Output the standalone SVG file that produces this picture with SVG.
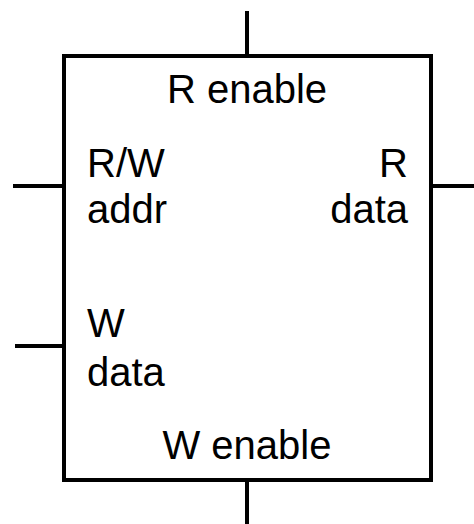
<svg xmlns="http://www.w3.org/2000/svg" width="474" height="524" viewBox="0 0 474 524">
  <style>
    .box { fill: #ffffff; stroke: #000000; stroke-width: 4; }
    .wire { stroke: #000000; stroke-width: 4; fill: none; }
    .lbl { font-family: "Liberation Sans", Arial, sans-serif; font-size: 40px; fill: #000000; }
  </style>
  <rect x="0" y="0" width="474" height="524" fill="#ffffff"/>

  <!-- port stubs -->
  <g id="connectors">
    <line class="wire" x1="247" y1="11" x2="247" y2="56"/>
    <line class="wire" x1="247" y1="480" x2="247" y2="524"/>
    <line class="wire" x1="13" y1="186" x2="64" y2="186"/>
    <line class="wire" x1="15" y1="346" x2="64" y2="346"/>
    <line class="wire" x1="431" y1="186" x2="474" y2="186"/>
  </g>

  <!-- memory block with its port labels -->
  <g id="memory">
    <rect class="box" x="64" y="56" width="367" height="424"/>
    <text class="lbl" x="247" y="103" text-anchor="middle">R enable</text>
    <text class="lbl" x="87" y="177">R/W</text>
    <text class="lbl" x="87" y="223">addr</text>
    <text class="lbl" x="408" y="177" text-anchor="end">R</text>
    <text class="lbl" x="408" y="223" text-anchor="end">data</text>
    <text class="lbl" x="87" y="337">W</text>
    <text class="lbl" x="87" y="386">data</text>
    <text class="lbl" x="247" y="459" text-anchor="middle">W enable</text>
  </g>
</svg>
